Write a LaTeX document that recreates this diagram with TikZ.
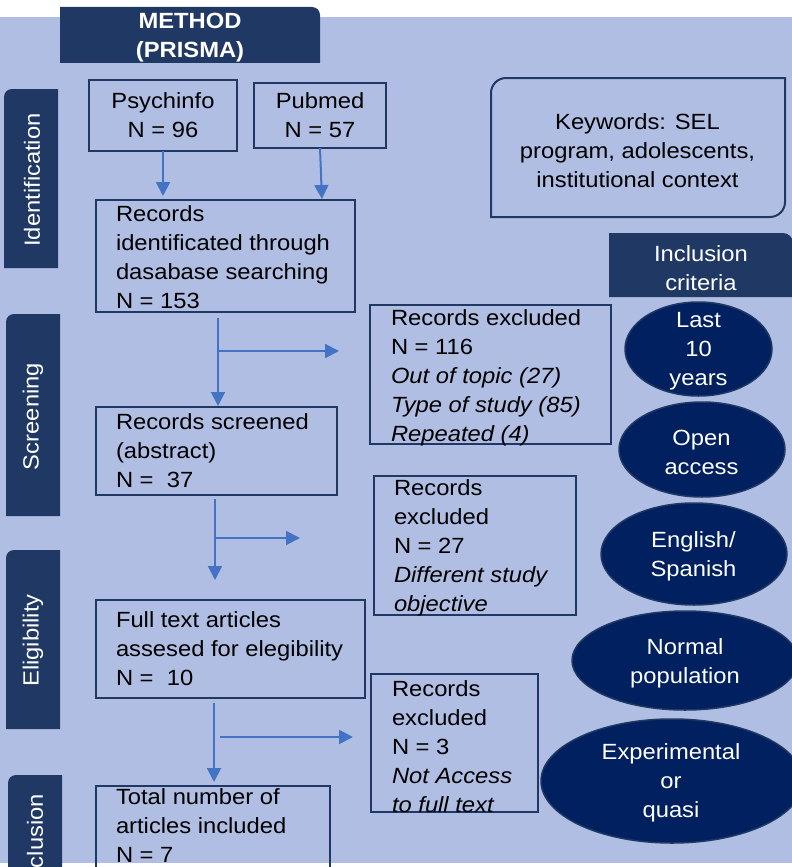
\documentclass[tikz,border=0pt]{standalone}
\usepackage{fontspec}
\setmainfont[FakeStretch=1.08]{Liberation Sans}
\usetikzlibrary{arrows.meta,shapes.geometric}
\definecolor{bg}{RGB}{176,190,227}
\definecolor{navy}{RGB}{31,56,100}
\definecolor{ellfill}{RGB}{0,32,96}
\definecolor{arrowblue}{RGB}{68,114,196}
\begin{document}
\begin{tikzpicture}[x=1pt,y=-1pt,
  every node/.style={font=\fontsize{22}{28.9}\selectfont, inner sep=0pt, outer sep=0pt},
  boxframe/.style={draw=navy, line width=2pt, rectangle},
  lefttext/.style={anchor=north west, align=left, text=black},
  midtext/.style={align=center, text=black},
  whitetext/.style={align=center, text=white},
  tabtext/.style={rotate=90, text=white},
  arr/.style={draw=arrowblue, line width=2pt, -{Triangle[length=14pt,width=14pt]}},
  crit/.style={ellipse, fill=ellfill, draw=navy, line width=1.5pt},
]
\useasboundingbox (0,0) rectangle (792,867);
\clip (0,0) rectangle (792,867);
% background
\fill[bg] (0,17) rectangle (792,863);

% title
\fill[navy] (60,63) -- (60,7) -- (312,7) arc[start angle=270,end angle=360,radius=8] -- (320,63) -- cycle;
\node[whitetext, font=\fontsize{22}{29}\selectfont\bfseries] (title) at (190,37.5) {METHOD\\(PRISMA)};

% side tabs
\fill[navy] (4,268) -- (4,97) arc[start angle=180,end angle=270,radius=8] -- (58,89) -- (58,268) -- cycle;
\node[tabtext] (tabid) at (32,180) {Identification};
\fill[navy] (6,516) -- (6,322) arc[start angle=180,end angle=270,radius=8] -- (60,314) -- (60,516) -- cycle;
\node[tabtext] (tabsc) at (33,416.5) {Screening};
\fill[navy] (6,729) -- (6,558) arc[start angle=180,end angle=270,radius=8] -- (60,550) -- (60,729) -- cycle;
\node[tabtext] (tabel) at (33,640.5) {Eligibility};
\fill[navy] (8,900) -- (8,783) arc[start angle=180,end angle=270,radius=8] -- (62,775) -- (62,900) -- cycle;
\node[tabtext] (tabin) at (35,841) {Inclusion};

% source boxes
\node[boxframe, minimum width=148pt, minimum height=71pt, midtext] (psy) at (163,115.5) {Psychinfo\\N = 96};
\node[boxframe, minimum width=132pt, minimum height=65pt, midtext] (pub) at (320,115.5) {Pubmed\\N = 57};

% flow boxes
\node[boxframe, minimum width=259pt, minimum height=112pt] (rid) at (225.5,256) {};
\node[lefttext] (ridt) at (116,206) {Records\\identificated through\\dasabase searching\\N = 153};
\node[boxframe, minimum width=241pt, minimum height=88pt] (rs) at (216.5,451) {};
\node[lefttext] (rst) at (116,414) {Records screened\\(abstract)\\N =\ \ 37};
\node[boxframe, minimum width=269pt, minimum height=98pt] (ft) at (230.5,649) {};
\node[lefttext] (ftt) at (116,612) {Full text articles\\assesed for elegibility\\N =\ \ 10};
\node[boxframe, minimum width=234pt, minimum height=114pt] (tot) at (213,843) {};
\node[lefttext] (tott) at (116,789) {Total number of\\articles included\\N = 7};

% exclusion boxes
\node[boxframe, minimum width=241pt, minimum height=139pt] (ex1) at (490.5,374.5) {};
\node[lefttext] (ex1t) at (391,310) {Records excluded\\N = 116\\\textit{Out of topic (27)}\\\textit{Type of study (85)}\\\textit{Repeated (4)}};
\node[boxframe, minimum width=202pt, minimum height=139pt] (ex2) at (475,545.5) {};
\node[lefttext] (ex2t) at (394,480) {Records\\excluded\\N = 27\\\textit{Different study}\\\textit{objective}};
\node[boxframe, minimum width=167pt, minimum height=138pt] (ex3) at (454.5,743) {};
\node[lefttext] (ex3t) at (392,681) {Records\\excluded\\N = 3\\\textit{Not Access}\\\textit{to full text}};

% arrows
\draw[arr, shorten >=4pt] (psy.south) -- (psy.south |- rid.north);
\draw[arr, shorten >=1pt] (pub.south) -- ([xshift=2pt]pub.south |- rid.north);
\draw[arr, shorten <=6pt, shorten >=1pt] ([xshift=-7.5pt]rid.south) -- ([xshift=-7.5pt]rid.south |- rs.north);
\coordinate (j1) at (218,351);
\coordinate (e1) at (339,351);
\draw[arr] (j1) -- (e1);
\draw[arr, shorten <=4pt, shorten >=20pt] ([xshift=-1.5pt]rs.south) -- ([xshift=-1.5pt]rs.south |- ft.north);
\coordinate (j2) at (215,538);
\coordinate (e2) at (300,538);
\draw[arr] (j2) -- (e2);
\draw[arr, shorten <=5pt, shorten >=4pt] ([xshift=-16.5pt]ft.south) -- ([xshift=-16.5pt]ft.south |- tot.north);
\coordinate (j3) at (220,737);
\coordinate (e3) at (353,737);
\draw[arr] (j3) -- (e3);

% keywords
\draw[draw=navy, line width=2pt] (491,217) -- (491,93) arc[start angle=180,end angle=270,radius=15] -- (785,78) -- (785,202) arc[start angle=0,end angle=90,radius=15] -- cycle;
\node[midtext] (kw) at (637.5,150.5) {Keywords: SEL\\program, adolescents,\\institutional context};

% inclusion criteria header
\fill[navy] (609,297) -- (609,233) -- (783,233) arc[start angle=270,end angle=360,radius=10] -- (793,297) -- cycle;
\node[whitetext] (inc) at (701,268.5) {Inclusion\\criteria};

% criteria ellipses
\node[crit, minimum width=147pt, minimum height=94pt] (c1) at (698.5,349) {};
\node[whitetext] (c1t) at (698.5,351) {Last\\10\\years};
\node[crit, minimum width=166pt, minimum height=95pt] (c2) at (702,449.5) {};
\node[whitetext] (c2t) at (701.5,452) {Open\\access};
\node[crit, minimum width=186pt, minimum height=102pt] (c3) at (694,554) {};
\node[whitetext] (c3t) at (693.5,556) {English/\\Spanish};
\node[crit, minimum width=226pt, minimum height=99pt] (c4) at (685,660.5) {};
\node[whitetext] (c4t) at (685,663) {Normal\\population};
\node[crit, minimum width=262pt, minimum height=124pt] (c5) at (672,781) {};
\node[whitetext] (c5t) at (671,783) {Experimental\\or\\quasi};
\end{tikzpicture}
\end{document}
